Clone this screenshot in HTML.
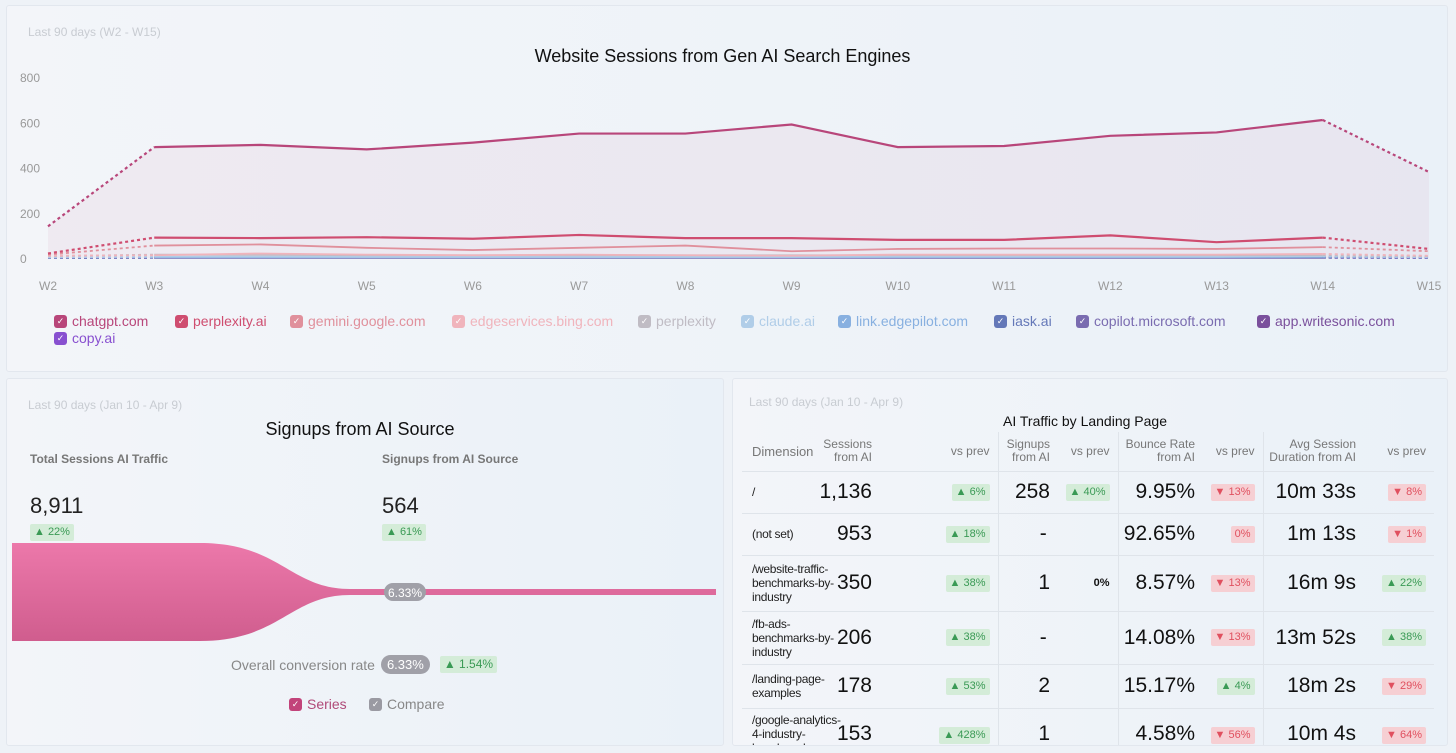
<!DOCTYPE html>
<html><head><meta charset="utf-8"><style>
*{box-sizing:border-box;margin:0;padding:0}
body{width:1456px;height:753px;overflow:hidden;background:#eef2f7;font-family:"Liberation Sans",sans-serif;position:relative;color:#222}
.panel{position:absolute;background:linear-gradient(90deg,#f3f5f9,#eaf1f8);border:1px solid #e2e7ee;border-radius:3px}
.sub{position:absolute;font-size:12px;color:#c8ccd2}
.ttl{position:absolute;font-size:18px;color:#111;text-align:center}
.leg{position:absolute;font-size:14px;display:flex;align-items:center;gap:5px;white-space:nowrap}
.cb{width:13px;height:13px;border-radius:3px;color:#fff;font-size:9px;line-height:13px;text-align:center;display:inline-block}
.up{background:#d4ecd8;color:#3a9a55;font-size:11px;padding:2px 4px;border-radius:2px;display:inline-block;vertical-align:middle;line-height:13px}
.dn{background:#f6cfd3;color:#e0505f;font-size:11px;padding:2px 4px;border-radius:2px;display:inline-block;vertical-align:middle;line-height:13px}
table{position:absolute;left:0;top:0;border-collapse:collapse;table-layout:fixed;width:692px}
td,th{text-align:right;padding-right:8px;border-bottom:1px solid #dfe4ea;vertical-align:middle;white-space:nowrap}
th{font-weight:normal;font-size:12px;color:#777;height:39px;line-height:13px}
td{font-size:21px;color:#111;line-height:22px}
td.dim{text-align:left;font-size:12px;letter-spacing:-0.3px;padding-left:10px;color:#222;line-height:14px}
th.dim{text-align:left;padding-left:10px}
.bl{border-left:1px solid #dfe4ea}
td.z{font-size:11px;font-weight:bold}
.n div{margin-left:-60px;text-align:right}
</style></head><body>
<div class="panel" style="left:6px;top:5px;width:1442px;height:367px"></div>
<div class="sub" style="left:28px;top:25px">Last 90 days (W2 - W15)</div>
<div class="ttl" style="left:400px;width:645px;top:46px">Website Sessions from Gen AI Search Engines</div>
<svg id="chart" width="1456" height="300" style="position:absolute;left:0;top:0"></svg>
<div id="legend"></div>

<div class="panel" style="left:6px;top:378px;width:718px;height:368px"></div>
<div class="sub" style="left:28px;top:398px">Last 90 days (Jan 10 - Apr 9)</div>
<div class="ttl" style="left:160px;width:400px;top:419px">Signups from AI Source</div>
<div style="position:absolute;left:30px;top:452px;font-size:12px;font-weight:bold;color:#777">Total Sessions AI Traffic</div>
<div style="position:absolute;left:382px;top:452px;font-size:12px;font-weight:bold;color:#777">Signups from AI Source</div>
<div style="position:absolute;left:30px;top:493px;font-size:22px">8,911</div>
<div style="position:absolute;left:382px;top:493px;font-size:22px">564</div>
<div class="up" style="position:absolute;left:30px;top:524px">▲ 22%</div>
<div class="up" style="position:absolute;left:382px;top:524px">▲ 61%</div>
<svg width="728" height="120" style="position:absolute;left:0;top:535px">
<defs><linearGradient id="fg" x1="0" y1="0" x2="0" y2="1"><stop offset="0" stop-color="#ec78aa"/><stop offset="1" stop-color="#d05d8e"/></linearGradient></defs>
<path d="M12 8 L200 8 C280 8 290 54 350 54 L716 54 L716 60 L350 60 C290 60 280 106 200 106 L12 106 Z" fill="url(#fg)"/>
<rect x="384" y="48" width="42" height="18" rx="9" fill="#a0a0a8"/>
<text x="405" y="62" font-size="12" fill="#fff" text-anchor="middle" font-family="Liberation Sans">6.33%</text>
</svg>
<div style="position:absolute;left:231px;top:655px;font-size:14px;color:#888;display:flex;align-items:center;gap:6px">Overall conversion rate <span style="background:#a0a0a8;color:#fff;border-radius:10px;padding:2px 6px;font-size:13px">6.33%</span><span class="up" style="font-size:12px;margin-left:4px">▲ 1.54%</span></div>
<div class="leg" style="left:289px;top:696px;color:#b04a78"><span class="cb" style="background:#c2437a">✓</span>Series</div>
<div class="leg" style="left:369px;top:696px;color:#888"><span class="cb" style="background:#9a9aa2">✓</span>Compare</div>

<div class="panel" style="left:732px;top:378px;width:716px;height:368px"></div>
<div class="sub" style="left:749px;top:395px">Last 90 days (Jan 10 - Apr 9)</div>
<div style="position:absolute;left:900px;width:370px;top:413px;text-align:center;font-size:14px;color:#111">AI Traffic by Landing Page</div>
<div style="position:absolute;left:742px;top:432px;width:692px;height:313px;overflow:hidden">
<table>
<colgroup><col style="width:95px"><col style="width:43px"><col style="width:118px"><col style="width:60px"><col style="width:60px"><col style="width:85px"><col style="width:60px"><col style="width:101px"><col style="width:70px"></colgroup>
<tr><th class="dim" style="font-size:13px">Dimension</th><th class="n"><div>Sessions<br>from AI</div></th><th>vs prev</th><th class="bl">Signups<br>from AI</th><th>vs prev</th><th class="bl">Bounce Rate<br>from AI</th><th>vs prev</th><th class="bl n"><div>Avg Session<br>Duration from AI</div></th><th>vs prev</th></tr>
<tr style="height:42px"><td class="dim">/</td><td class="n"><div>1,136</div></td><td><span class="up">▲ 6%</span></td><td class="bl">258</td><td><span class="up">▲ 40%</span></td><td class="bl n"><div>9.95%</div></td><td><span class="dn">▼ 13%</span></td><td class="bl">10m 33s</td><td><span class="dn">▼ 8%</span></td></tr>
<tr style="height:42px"><td class="dim">(not set)</td><td class="n"><div>953</div></td><td><span class="up">▲ 18%</span></td><td class="bl" style="text-align:center;padding:0 0 0 30px">-</td><td></td><td class="bl n"><div>92.65%</div></td><td><span class="dn">0%</span></td><td class="bl">1m 13s</td><td><span class="dn">▼ 1%</span></td></tr>
<tr style="height:56px"><td class="dim">/website-traffic-<br>benchmarks-by-<br>industry</td><td class="n"><div>350</div></td><td><span class="up">▲ 38%</span></td><td class="bl">1</td><td class="z">0%</td><td class="bl n"><div>8.57%</div></td><td><span class="dn">▼ 13%</span></td><td class="bl">16m 9s</td><td><span class="up">▲ 22%</span></td></tr>
<tr style="height:53px"><td class="dim">/fb-ads-<br>benchmarks-by-<br>industry</td><td class="n"><div>206</div></td><td><span class="up">▲ 38%</span></td><td class="bl" style="text-align:center;padding:0 0 0 30px">-</td><td></td><td class="bl n"><div>14.08%</div></td><td><span class="dn">▼ 13%</span></td><td class="bl">13m 52s</td><td><span class="up">▲ 38%</span></td></tr>
<tr style="height:44px"><td class="dim">/landing-page-<br>examples</td><td class="n"><div>178</div></td><td><span class="up">▲ 53%</span></td><td class="bl">2</td><td></td><td class="bl n"><div>15.17%</div></td><td><span class="up">▲ 4%</span></td><td class="bl">18m 2s</td><td><span class="dn">▼ 29%</span></td></tr>
<tr style="height:56px"><td class="dim" style="vertical-align:top;padding-top:4px">/google-analytics-<br>4-industry-<br>benchmarks</td><td class="n" style="vertical-align:top;padding-top:14px"><div>153</div></td><td style="vertical-align:top;padding-top:16px"><span class="up">▲ 428%</span></td><td class="bl" style="vertical-align:top;padding-top:14px">1</td><td></td><td class="bl n" style="vertical-align:top;padding-top:14px"><div>4.58%</div></td><td style="vertical-align:top;padding-top:16px"><span class="dn">▼ 56%</span></td><td class="bl" style="vertical-align:top;padding-top:14px">10m 4s</td><td style="vertical-align:top;padding-top:16px"><span class="dn">▼ 64%</span></td></tr>
</table></div>

<script>
const weeks=["W2","W3","W4","W5","W6","W7","W8","W9","W10","W11","W12","W13","W14","W15"];
const yTicks=[0,200,400,600,800];
const seriesNames=["chatgpt.com","perplexity.ai","gemini.google.com","edgeservices.bing.com","perplexity","claude.ai","link.edgepilot.com","iask.ai","copilot.microsoft.com","app.writesonic.com","copy.ai"];
const seriesColors=["#b8467a","#cf4d70","#e0909c","#f0b4bc","#c0bcc4","#b0cde8","#88b0e0","#6478b8","#7a6cb0","#7a509c","#8850d0"];
const chatgpt=[140,490,500,480,510,550,550,590,490,495,540,555,610,380];
const perplexityAi=[20,90,88,92,85,102,88,88,80,80,100,70,90,40];
const gemini=[15,55,60,45,35,45,55,30,40,42,42,40,48,30];
const edgeservices=[10,12,20,15,12,15,12,10,15,15,15,15,18,10];
const perplexity=[8,15,14,12,12,12,12,12,12,12,12,12,12,8];
const claude=[3,6,6,5,5,5,5,5,6,6,6,6,8,4];
const edgepilot=[2,4,4,4,4,4,4,4,4,4,4,4,5,3];
const iask=[1,2,2,2,2,2,2,3,3,3,3,3,3,2];
const copilot=[1,2,2,2,2,2,2,2,2,2,2,2,2,1];
const writesonic=[0,1,1,1,1,1,1,1,1,1,1,1,1,1];
const copyai=[0,1,1,1,1,1,1,1,1,1,1,1,1,0];
const allSeries=[chatgpt,perplexityAi,gemini,edgeservices,perplexity,claude,edgepilot,iask,copilot,writesonic,copyai];
const NS="http://www.w3.org/2000/svg";
const svg=document.getElementById('chart');
const x=i=>48+i*(1429-48)/(weeks.length-1);
const y=v=>258-v*(258-77)/800;
function mk(t,a){const e=document.createElementNS(NS,t);for(const k in a)e.setAttribute(k,a[k]);svg.appendChild(e);return e;}
yTicks.forEach(t=>{const e=mk('text',{x:20,y:y(t)+5,'font-size':12,fill:'#999','font-family':'Liberation Sans'});e.textContent=t;

});
weeks.forEach((w,i)=>{const e=mk('text',{x:x(i),y:290,'font-size':12,fill:'#999','text-anchor':'middle','font-family':'Liberation Sans'});e.textContent=w;

});
let ad="M"+x(0)+" "+y(0);chatgpt.forEach((v,i)=>ad+=" L"+x(i)+" "+y(v));ad+=" L"+x(weeks.length-1)+" "+y(0)+"Z";
const ar=mk('path',{d:ad,fill:'#b8467a','fill-opacity':0.06});


for(let s=allSeries.length-1;s>=0;s--){
 const d=allSeries[s],n=d.length,c=seriesColors[s],w=s<2?2.2:1.8;
 let solid="";for(let i=1;i<n-1;i++)solid+=(i==1?"M":" L")+x(i)+" "+y(d[i]);
 const p=mk('path',{d:solid,fill:'none',stroke:c,'stroke-width':w});
 
 
 const d1=mk('path',{d:"M"+x(0)+" "+y(d[0])+" L"+x(1)+" "+y(d[1]),fill:'none',stroke:c,'stroke-width':w,'stroke-dasharray':'3 3'});
 
 
 const d2=mk('path',{d:"M"+x(n-2)+" "+y(d[n-2])+" L"+x(n-1)+" "+y(d[n-1]),fill:'none',stroke:c,'stroke-width':w,'stroke-dasharray':'3 3'});
 
 
}
const legPos=[[54,313],[175,313],[290,313],[452,313],[638,313],[741,313],[838,313],[994,313],[1076,313],[1257,313],[54,330]];
const lg=document.getElementById('legend');
seriesNames.forEach((nm,i)=>{const el=document.createElement('div');el.className='leg';
 
 
 el.style.left=legPos[i][0]+'px';el.style.top=legPos[i][1]+'px';el.style.color=seriesColors[i];
 el.innerHTML='<span class="cb" style="background:'+seriesColors[i]+'">✓</span>'+nm;lg.appendChild(el);});
</script>
</body></html>
